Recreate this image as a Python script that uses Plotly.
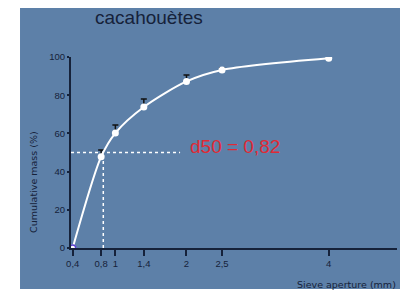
import plotly.graph_objects as go

# Data
sieve_mm = [0.4, 0.8, 1.0, 1.4, 2.0, 2.5, 4.0]
cum_mass = [0, 47.8, 60.2, 73.8, 87.2, 93.2, 99.3]
err_plus = [0, 3.5, 4.2, 4.2, 3.4, 1.0, 0]
tick_vals = [0.4, 0.8, 1, 1.4, 2, 2.5, 4]
tick_text = ["0,4", "0,8", "1", "1,4", "2", "2,5", "4"]
d50 = 0.83
d50_label = "d50 = 0,82"

ink = "#16223a"
fig = go.Figure()

# d50 guide lines
fig.add_trace(go.Scatter(x=[0.376, 1.91], y=[50, 50], mode="lines",
                         line=dict(color="white", width=1.5, dash="dot"),
                         hoverinfo="skip", showlegend=False))
fig.add_trace(go.Scatter(x=[d50, d50], y=[0, 50], mode="lines",
                         line=dict(color="white", width=1.5, dash="dot"),
                         hoverinfo="skip", showlegend=False))

# curve
fig.add_trace(go.Scatter(x=sieve_mm, y=cum_mass, mode="lines+markers",
                         line=dict(color="white", width=2, shape="spline", smoothing=0.8),
                         marker=dict(color="white", size=7),
                         error_y=dict(type="data", array=err_plus, arrayminus=[0]*len(err_plus),
                                      color="#111", thickness=1.5, width=3),
                         showlegend=False))
# origin marker
fig.add_trace(go.Scatter(x=[sieve_mm[0]], y=[cum_mass[0]], mode="markers",
                         marker=dict(color="white", size=6, line=dict(color="#5a3fd0", width=1.5)),
                         showlegend=False))

fig.update_layout(
    width=401, height=285,
    margin=dict(l=63, r=12, t=49, b=45),
    paper_bgcolor="white", plot_bgcolor="rgba(0,0,0,0)",
    font=dict(family="Liberation Sans, Arial", color=ink, size=9),
    shapes=[dict(type="rect", xref="paper", yref="paper",
                 x0=-0.1564, x1=1.0092, y0=-0.2147, y1=1.40,
                 fillcolor="#5d80a8", line=dict(width=0), layer="below")],
    xaxis=dict(range=[0.376, 4.96], tickvals=tick_vals, ticktext=tick_text,
               showgrid=False, zeroline=False, showline=True, linecolor=ink, linewidth=2,
               ticks="outside", ticklen=6, tickwidth=1.5, tickcolor=ink,
               tickfont=dict(size=9.5, color=ink)),
    yaxis=dict(range=[0, 100], tickvals=[0, 20, 40, 60, 80, 100],
               showgrid=False, zeroline=False, showline=True, linecolor=ink, linewidth=2,
               ticks="outside", ticklen=2, tickwidth=1.5, tickcolor=ink,
               tickfont=dict(size=9.5, color=ink)),
    annotations=[
        dict(text="cacahouètes", xref="paper", yref="paper", x=(149-71)/326, y=(248-17)/191,
             showarrow=False, font=dict(size=19, color=ink), xanchor="center", yanchor="middle"),
        dict(text=d50_label, xref="paper", yref="paper", x=(235-71)/326, y=(248-146)/191,
             showarrow=False, font=dict(size=19, color="#e02a35"), xanchor="center", yanchor="middle"),
        dict(text="Cumulative mass (%)", xref="paper", yref="paper", x=(33-71)/326, y=(248-182)/191,
             showarrow=False, textangle=-90, font=dict(size=9.5, color=ink, family="DejaVu Sans"),
             xanchor="center", yanchor="middle"),
        dict(text="Sieve aperture (mm)", xref="paper", yref="paper", x=(398-71)/326, y=(248-284)/191,
             showarrow=False, font=dict(size=9.5, color=ink, family="DejaVu Sans"),
             xanchor="right", yanchor="middle"),
    ],
)

fig.write_html("out.html")
